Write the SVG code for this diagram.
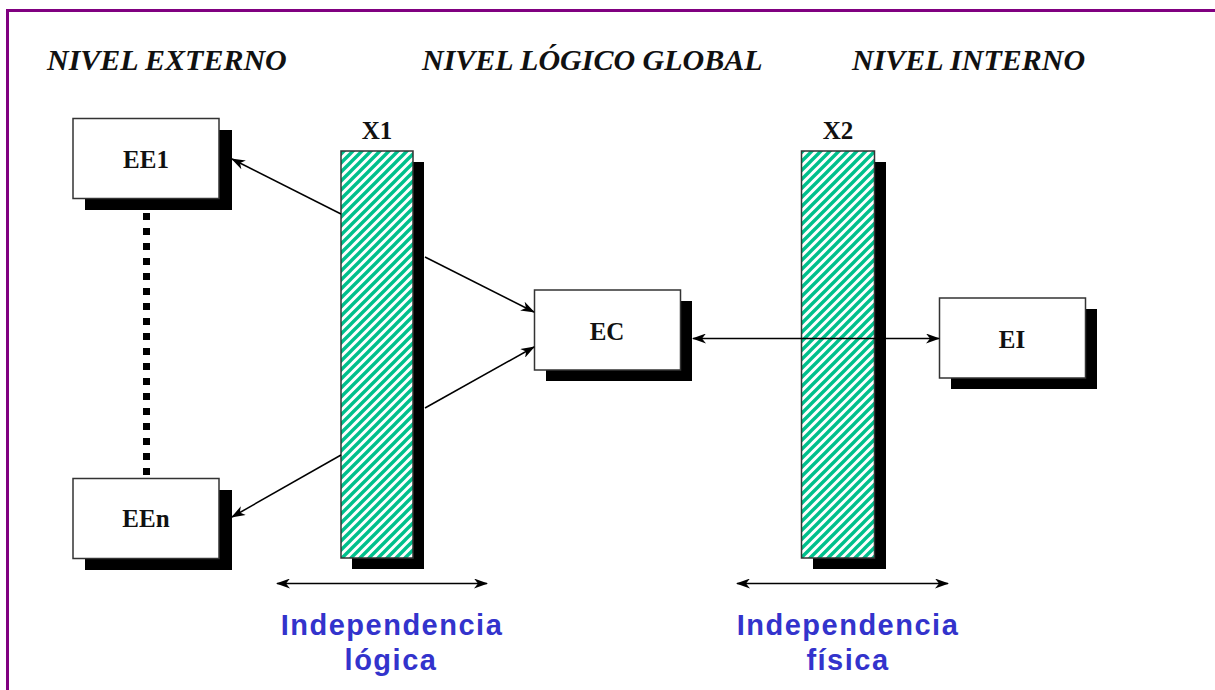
<svg xmlns="http://www.w3.org/2000/svg" width="1215" height="690" viewBox="0 0 1215 690">
<style>
.box{fill:#fff;stroke:#333;stroke-width:1.5}
.shadow{fill:#000}
.bar{fill:url(#hatch);stroke:#333;stroke-width:1.5}
.lbl{font-family:"Liberation Serif","Times New Roman",serif;font-weight:bold;font-size:25px;text-anchor:middle;fill:#111}
.head{font-family:"Liberation Serif","Times New Roman",serif;font-weight:bold;font-style:italic;font-size:30px;fill:#111}
.blue{font-family:"Liberation Sans",Arial,sans-serif;font-weight:bold;font-size:29px;fill:#3333cc;text-anchor:middle;letter-spacing:1.5px}
.conn line{stroke:#000;stroke-width:1.5;fill:none}
</style>
<defs>
<pattern id="hatch" patternUnits="userSpaceOnUse" width="9" height="9">
<rect width="9" height="9" fill="#fff"/>
<path d="M-2,2 L2,-2 M0,9 L9,0 M7,11 L11,7" stroke="#00c08c" stroke-width="3.4"/>
</pattern>
<marker id="ah" viewBox="0 0 14 10" refX="13" refY="5" markerWidth="14" markerHeight="10" markerUnits="userSpaceOnUse" orient="auto-start-reverse">
<path d="M0,0 L14,5 L0,10 L4,5 z" fill="#000"/>
</marker>
</defs>
<rect x="7.5" y="10.5" width="1230" height="700" fill="none" stroke="#800080" stroke-width="3"/>
<g id="headings">
<text class="head" x="47" y="70">NIVEL EXTERNO</text>
<text class="head" x="422" y="70">NIVEL LÓGICO GLOBAL</text>
<text class="head" x="852" y="70">NIVEL INTERNO</text>
</g>
<g id="dots">
<line x1="146.5" y1="213" x2="146.5" y2="494" stroke="#000" stroke-width="7" stroke-dasharray="7 8"/>
</g>
<g id="EE1">
<rect class="shadow" x="85" y="130" width="147" height="80"/>
<rect class="box" x="73" y="118.5" width="146" height="80"/>
<text class="lbl" x="146" y="168">EE1</text>
</g>
<g id="EEn">
<rect class="shadow" x="85" y="490" width="147" height="80"/>
<rect class="box" x="73" y="478.5" width="146" height="80"/>
<text class="lbl" x="146" y="527">EEn</text>
</g>
<g id="X1">
<rect class="shadow" x="352" y="162" width="72" height="407"/>
<rect class="bar" x="341" y="151" width="72" height="407"/>
<text class="lbl" x="377" y="139">X1</text>
</g>
<g id="X2">
<rect class="shadow" x="813" y="162" width="73" height="407"/>
<rect class="bar" x="801.5" y="151" width="73" height="407"/>
<text class="lbl" x="838" y="139">X2</text>
</g>
<g id="EC">
<rect class="shadow" x="546" y="301" width="146" height="80"/>
<rect class="box" x="534.5" y="290" width="146" height="80"/>
<text class="lbl" x="607" y="340">EC</text>
</g>
<g id="EI">
<rect class="shadow" x="951" y="309" width="146" height="80"/>
<rect class="box" x="939.5" y="298" width="146" height="80"/>
<text class="lbl" x="1012" y="348">EI</text>
</g>
<g id="connectors" class="conn">
<line x1="341" y1="214" x2="232" y2="159" marker-end="url(#ah)"/>
<line x1="425" y1="257" x2="534" y2="312" marker-end="url(#ah)"/>
<line x1="425" y1="408" x2="534" y2="347" marker-end="url(#ah)"/>
<line x1="341" y1="455" x2="232" y2="517" marker-end="url(#ah)"/>
<line x1="693" y1="338.5" x2="939" y2="338.5" marker-start="url(#ah)" marker-end="url(#ah)"/>
<line x1="277" y1="583.5" x2="487" y2="583.5" marker-start="url(#ah)" marker-end="url(#ah)"/>
<line x1="737" y1="583.5" x2="948" y2="583.5" marker-start="url(#ah)" marker-end="url(#ah)"/>
</g>
<g id="labels">
<text class="blue" x="392" y="635">Independencia</text>
<text class="blue" x="391" y="670">lógica</text>
<text class="blue" x="848" y="635">Independencia</text>
<text class="blue" x="848" y="670">física</text>
</g>
</svg>
